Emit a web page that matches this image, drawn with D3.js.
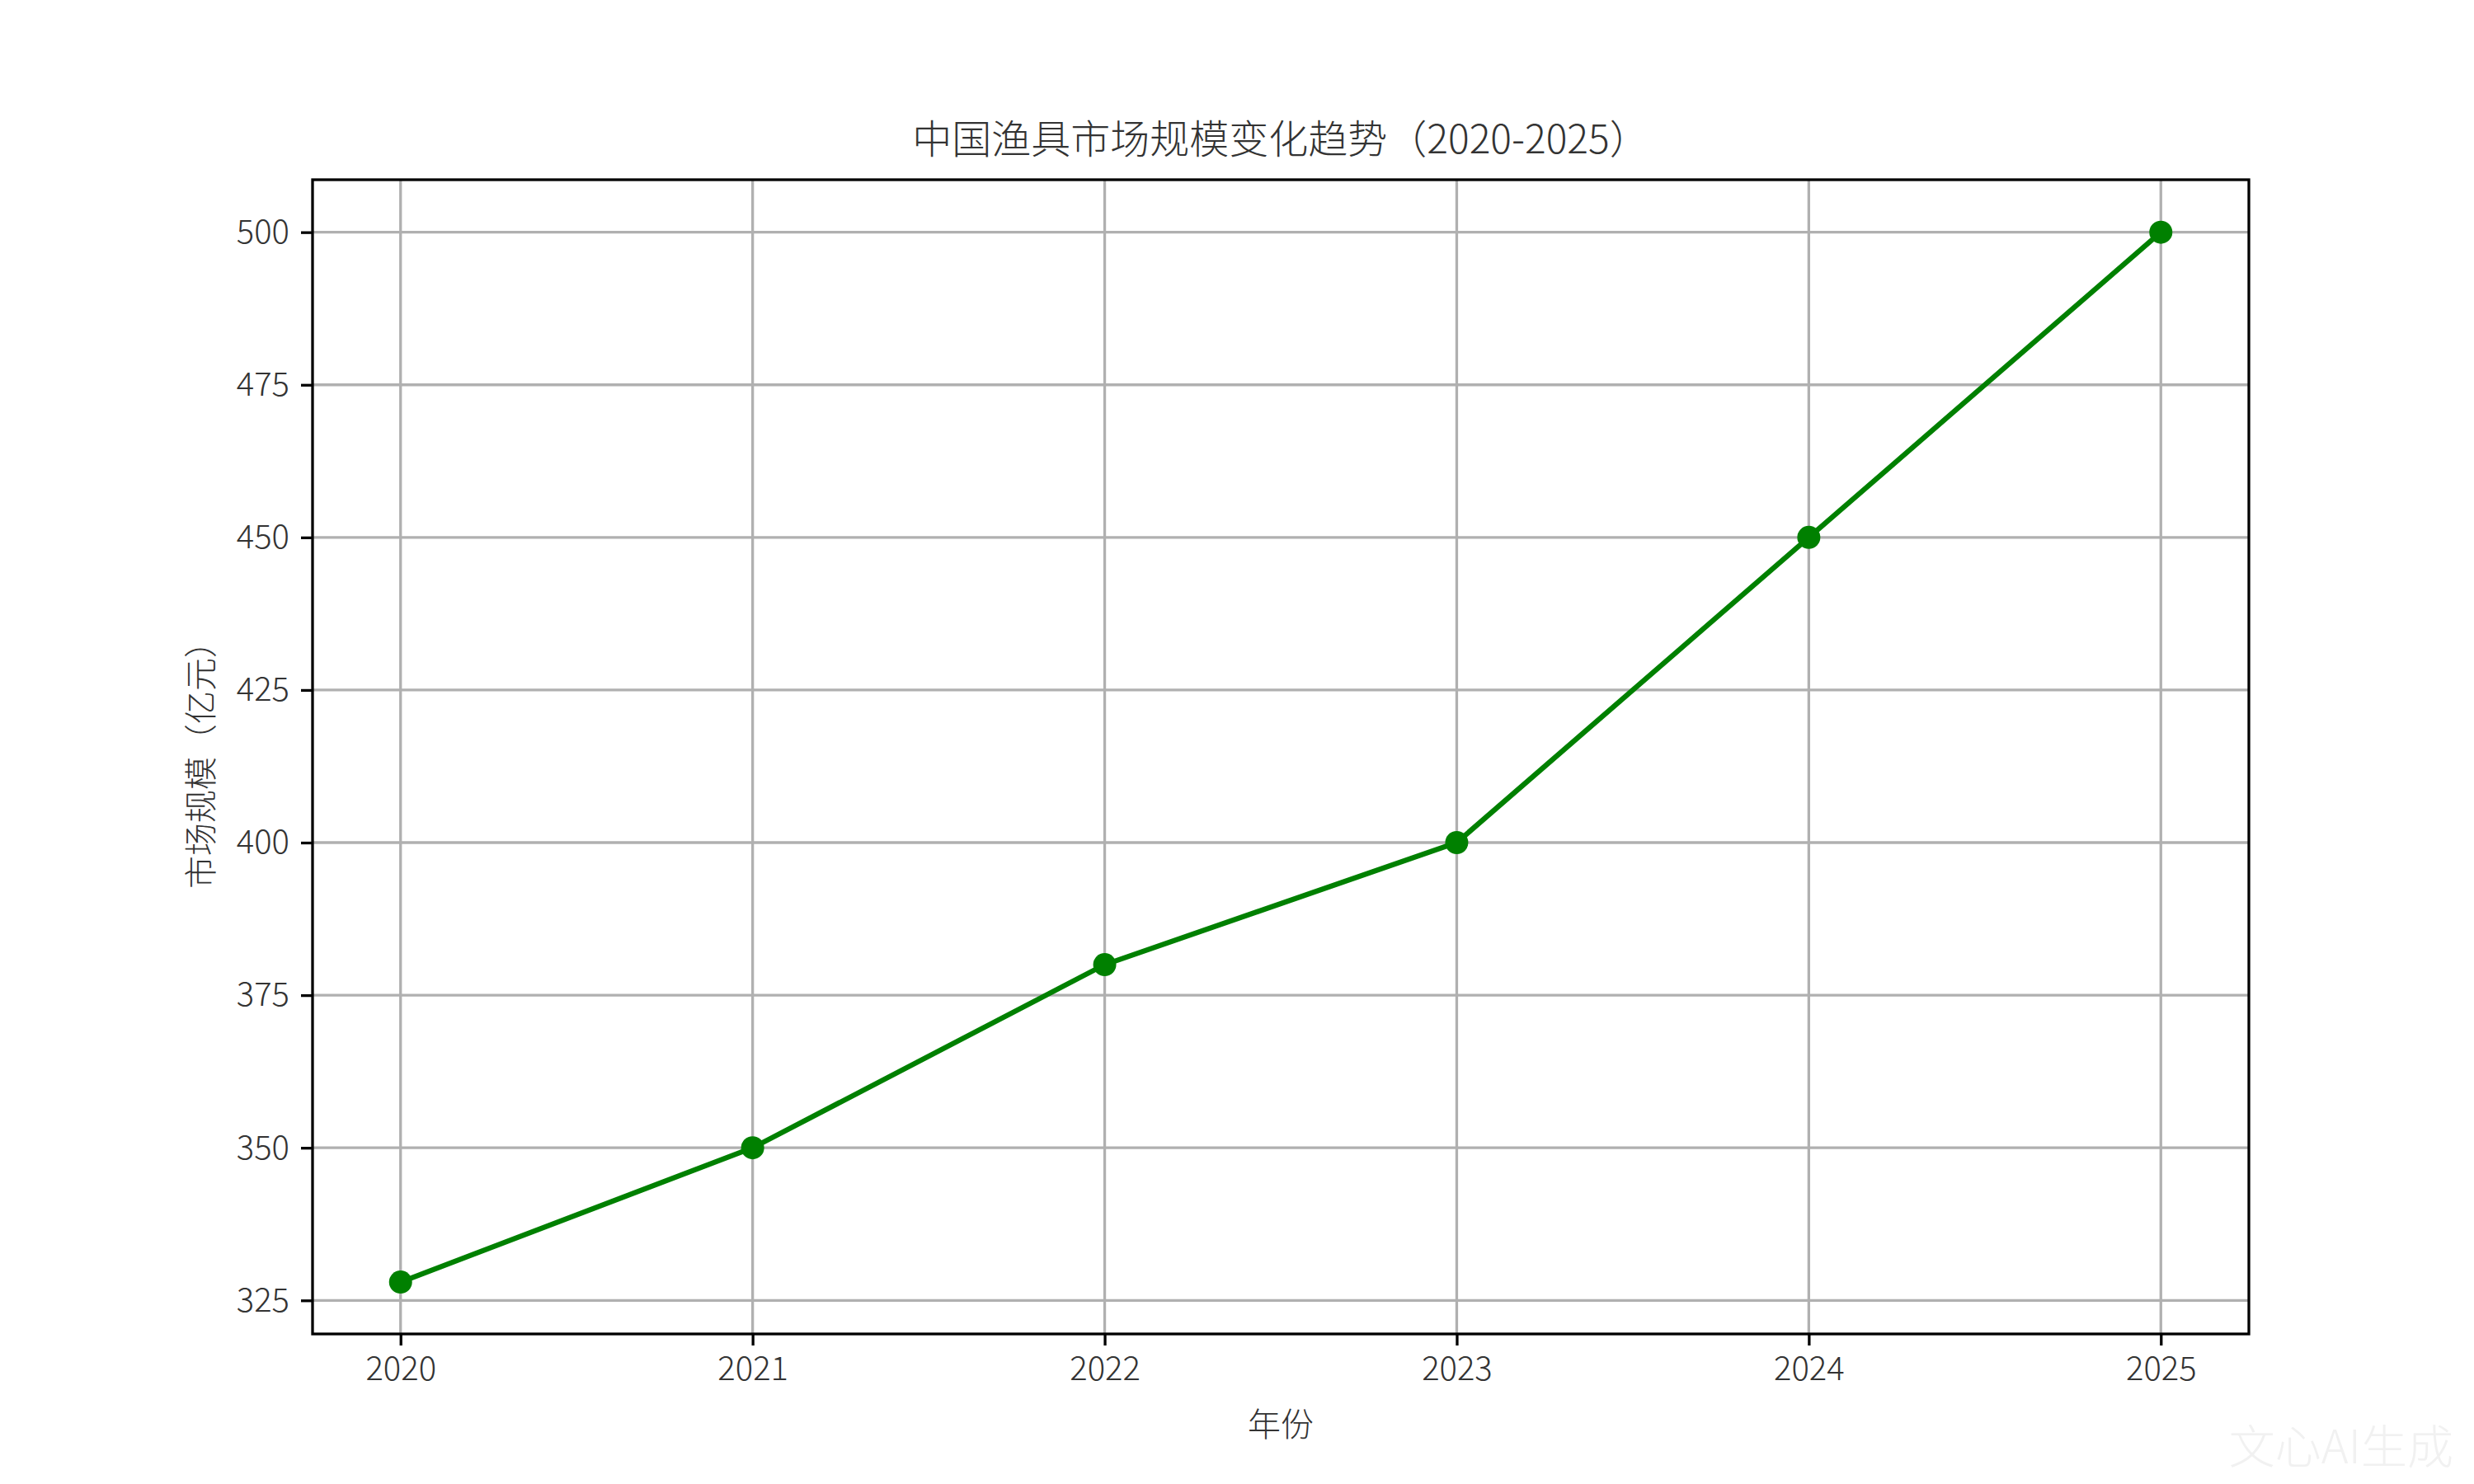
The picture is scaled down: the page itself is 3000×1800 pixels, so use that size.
<!DOCTYPE html>
<html><head><meta charset="utf-8">
<script src="https://cdn.jsdelivr.net/npm/d3@7"></script>
<style>body{margin:0;background:#fff}svg{font-family:"Noto Sans CJK SC","Noto Sans",sans-serif;font-weight:300}</style>
</head><body><svg id="c" width="3000" height="1800"></svg>
<script>
const years=[2020,2021,2022,2023,2024,2025];
const values=[328,350,380,400,450,500];
const yTicks=[325,350,375,400,425,450,475,500];
const title="中国渔具市场规模变化趋势（2020-2025）";
const xLabel="年份", yLabel="市场规模（亿元）";

const svg=d3.select("#c");
const L=379,R=2727,T=218,B=1618;
const x=d3.scaleLinear().domain([2019.75,2025.25]).range([L,R]);
const y=d3.scaleLinear().domain([319.5,508.6]).range([B,T]);
const g=svg.append("g");
g.selectAll(".gx").data(years).enter().append("line").attr("x1",d=>x(d)).attr("x2",d=>x(d)).attr("y1",T).attr("y2",B).attr("stroke","#b0b0b0").attr("stroke-width",3.3);
g.selectAll(".gy").data(yTicks).enter().append("line").attr("y1",d=>y(d)).attr("y2",d=>y(d)).attr("x1",L).attr("x2",R).attr("stroke","#b0b0b0").attr("stroke-width",3.3);
const xa=svg.append("g").attr("transform",`translate(0,${B})`).call(d3.axisBottom(x).tickValues(years).tickFormat(d3.format("d")).tickSize(14).tickPadding(14));
const ya=svg.append("g").attr("transform",`translate(${L},0)`).call(d3.axisLeft(y).tickValues(yTicks).tickSize(14).tickPadding(14));
[xa,ya].forEach(a=>{a.select(".domain").remove();a.selectAll("line").attr("stroke","#000").attr("stroke-width",3.3);a.selectAll("text").attr("font-size",40).attr("fill","#333").style("font-family",'"Noto Sans CJK SC",sans-serif').style("font-weight",300);});
svg.append("rect").attr("x",L).attr("y",T).attr("width",R-L).attr("height",B-T).attr("fill","none").attr("stroke","#000").attr("stroke-width",3.3);
svg.append("path").datum(years.map((d,i)=>[d,values[i]])).attr("fill","none").attr("stroke","#008000").attr("stroke-width",6.25)
 .attr("d",d3.line().x(d=>x(d[0])).y(d=>y(d[1])));
svg.selectAll(".pt").data(values).enter().append("circle").attr("cx",(d,i)=>x(years[i])).attr("cy",d=>y(d)).attr("r",14).attr("fill","#008000");
svg.append("text").attr("x",(L+R)/2).attr("y",T-32).attr("text-anchor","middle").attr("font-size",48).attr("fill","#333").text(title);
svg.append("text").attr("x",(L+R)/2).attr("y",1742).attr("text-anchor","middle").attr("font-size",40).attr("fill","#333").text(xLabel);
svg.append("text").attr("transform",`translate(258,${(T+B)/2}) rotate(-90)`).attr("text-anchor","middle").attr("font-size",40).attr("fill","#333").text(yLabel);
svg.append("text").attr("x",2975).attr("y",1775).attr("text-anchor","end").attr("font-size",56).attr("fill","#eee").attr("opacity",0.8).text("文心AI生成");
</script></body></html>
